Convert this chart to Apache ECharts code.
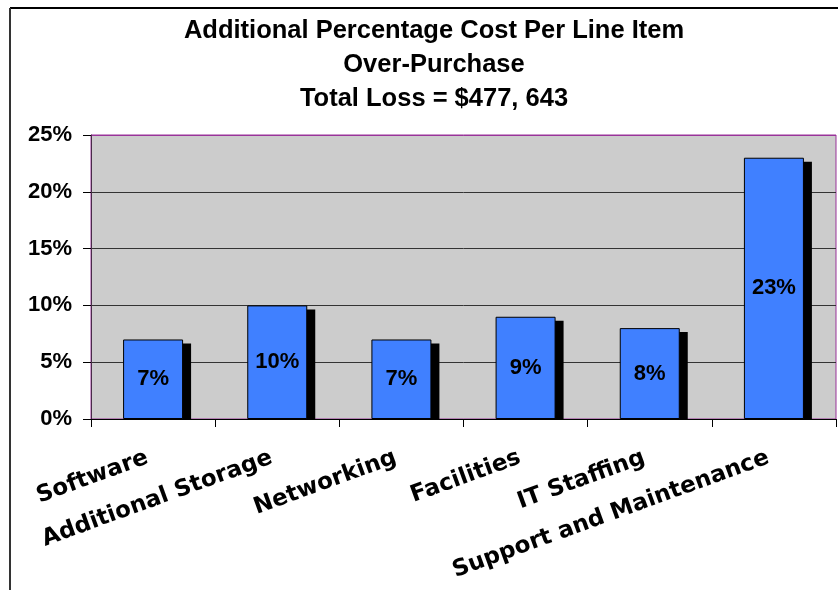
<!DOCTYPE html>
<html>
<head>
<meta charset="utf-8">
<script src="https://cdn.jsdelivr.net/npm/echarts@6/dist/echarts.min.js"></script>
<style>html,body{margin:0;padding:0;background:#fff;}#c{width:838px;height:590px;}</style>
</head>
<body>
<div id="c"></div>
<script>
const titleLines = ['Additional Percentage Cost Per Line Item', 'Over-Purchase', 'Total Loss = $477, 643'];
const categories = ['Software', 'Additional Storage', 'Networking', 'Facilities', 'IT Staffing', 'Support and Maintenance'];
const values = [7, 10, 7, 9, 8, 23];
const yTicks = [0, 5, 10, 15, 20, 25];

const chart = echarts.init(document.getElementById('c'), null, {renderer: 'canvas'});
const BAR_W = 60;
chart.setOption({
  animation: false,
  backgroundColor: '#fff',
  title: {
    text: titleLines.join('\n'),
    left: 429,
    top: 9,
    textAlign: 'center',
    textStyle: {fontFamily: 'Liberation Sans', fontWeight: 'bold', fontSize: 25.5, lineHeight: 34, color: '#000'}
  },
  graphic: [
    {type: 'line', shape: {x1: 10, y1: 8, x2: 838, y2: 8}, style: {stroke: '#000', lineWidth: 2}, z: 100},
    {type: 'line', shape: {x1: 10, y1: 8, x2: 10, y2: 590}, style: {stroke: '#333', lineWidth: 2}, z: 100}
  ],
  grid: {left: 91, right: 2, top: 135, bottom: 171, show: true, backgroundColor: '#cccccc', borderColor: '#993399', borderWidth: 1},
  xAxis: {
    type: 'category',
    data: categories,
    axisLine: {show: true, lineStyle: {color: '#000', width: 1}},
    axisTick: {show: true, length: 8, lineStyle: {color: '#000'}},
    axisLabel: {rotate: 20, margin: 36, interval: 0, padding: [0, 6, 0, 0], fontFamily: 'DejaVu Sans', fontWeight: 'bold', fontSize: 23, color: '#000'},
    splitLine: {show: false}
  },
  yAxis: {
    type: 'value',
    min: yTicks[0], max: yTicks[yTicks.length - 1], interval: 5,
    axisLine: {show: true, lineStyle: {color: '#4a2a4a', width: 1}},
    axisTick: {show: true, length: 8, lineStyle: {color: '#000'}},
    axisLabel: {formatter: '{value}%', margin: 19, fontFamily: 'Liberation Sans', fontWeight: 'bold', fontSize: 22, color: '#000'},
    splitLine: {show: true, lineStyle: {color: ['#333', '#333', '#333', '#333', '#333', '#993399'], width: 1}}
  },
  series: [
    {
      type: 'custom',
      z: 1,
      data: values.map((v, i) => [i, v]),
      renderItem: function (params, api) {
        const top = api.coord([api.value(0), api.value(1)]);
        const base = api.coord([api.value(0), 0]);
        return {
          type: 'rect',
          shape: {x: top[0] - BAR_W / 2 + 8, y: top[1] + 4, width: BAR_W, height: base[1] - top[1] - 4},
          style: {fill: '#000'}
        };
      }
    },
    {
      type: 'bar',
      z: 2,
      data: values,
      barWidth: BAR_W,
      itemStyle: {color: '#4080ff', borderColor: '#000', borderWidth: 1},
      label: {show: true, position: 'inside', formatter: '{c}%', fontFamily: 'Liberation Sans', fontWeight: 'bold', fontSize: 22, color: '#000'}
    }
  ]
});
</script>
</body>
</html>
